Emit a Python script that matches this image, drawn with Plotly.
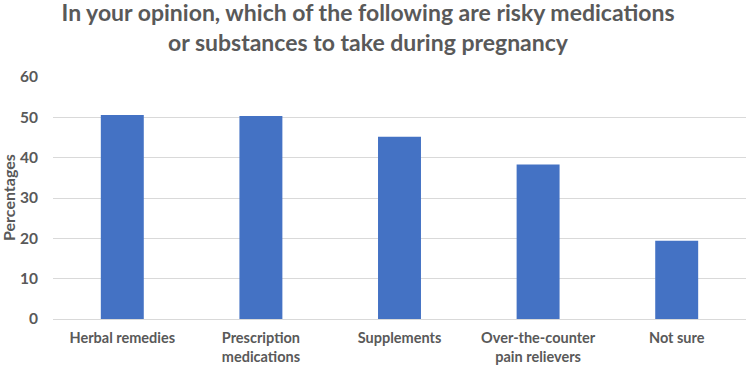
import plotly.graph_objects as go

categories = ["Herbal remedies", "Prescription<br>medications", "Supplements",
              "Over-the-counter<br>pain relievers", "Not sure"]
values = [50.6, 50.3, 45.2, 38.3, 19.4]
y_ticks = [0, 10, 20, 30, 40, 50, 60]

FONT = "Lato, 'Open Sans', sans-serif"
GRAY = "#595959"

W, H = 749, 368
L, T, B = 53, 77, 49

fig = go.Figure(go.Bar(x=categories, y=values, marker_color="#4472C4",
                       marker_line_width=0))

fig.update_layout(
    width=W, height=H,
    margin=dict(l=L, r=3, t=T, b=B, autoexpand=False),
    paper_bgcolor="white", plot_bgcolor="white",
    bargap=0.69,
    showlegend=False,
    title=dict(text="<b>In your opinion, which of the following are risky medications<br>or substances to take during pregnancy</b>",
               x=368/W, xanchor="center", xref="container",
               yref="container", y=1 - 21/H, yanchor="middle",
               font=dict(family=FONT, size=23, color=GRAY)),
    font=dict(family=FONT, color=GRAY),
    annotations=[dict(text="<b>Percentages</b>", textangle=-90,
                      xref="paper", x=0, xshift=8 - L, xanchor="center",
                      yref="paper", y=0.5, yanchor="middle", showarrow=False,
                      font=dict(family=FONT, size=16, color=GRAY))],
)
fig.update_xaxes(tickfont=dict(family=FONT, size=14.5, color=GRAY, weight="bold"),
                 showline=True, linecolor="#d9d9d9", ticks="", showgrid=False,
                 automargin=False, ticklabelstandoff=6)
fig.update_yaxes(range=[0, 60], tickvals=y_ticks, showgrid=True, gridcolor="#d9d9d9",
                 zeroline=False, ticks="", ticklabelstandoff=14, automargin=False,
                 tickfont=dict(family=FONT, size=15.5, color=GRAY, weight="bold"))

fig.write_html("out.html", config={"displayModeBar": False},
               post_script="document.body.style.margin='0';")
